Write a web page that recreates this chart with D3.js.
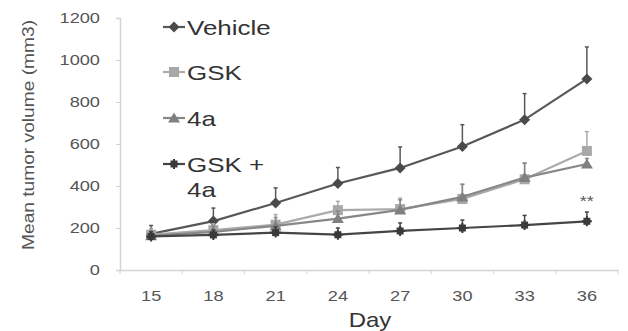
<!DOCTYPE html>
<html><head><meta charset="utf-8">
<script src="https://cdn.jsdelivr.net/npm/d3@7"></script>
<style>body{margin:0;background:#fff}svg{display:block}</style>
</head><body>
<svg id="c" width="628" height="331"></svg>
<script>
const days = [15, 18, 21, 24, 27, 30, 33, 36];
const yTicks = [0, 200, 400, 600, 800, 1000, 1200];
const vehicle = [172, 233, 319, 412, 486, 588, 716, 910];
const vehicleErr = [40, 62, 72, 76, 100, 104, 124, 152];
const gsk = [168, 190, 216, 285, 290, 338, 432, 567];
const gskErr = [30, 30, 48, 42, 52, 70, 78, 92];
const a4 = [163, 182, 210, 245, 286, 348, 440, 505];
const a4Err = [25, 26, 40, 36, 48, 60, 68, 26];
const combo = [160, 167, 178, 168, 186, 200, 214, 232];
const comboErr = [22, 24, 28, 32, 38, 38, 46, 44];
const seriesNames = ["Vehicle", "GSK", "4a", "GSK +|4a"];

const series = [
  {name: seriesNames[0], values: vehicle, err: vehicleErr, color: "#585858", mcolor: "#4a4a4a", shape: "diamond"},
  {name: seriesNames[1], values: gsk, err: gskErr, color: "#ababab", mcolor: "#a8a8a8", shape: "square"},
  {name: seriesNames[2], values: a4, err: a4Err, color: "#878787", mcolor: "#808080", shape: "triangle"},
  {name: seriesNames[3], values: combo, err: comboErr, color: "#454545", mcolor: "#3a3a3a", shape: "star"}
];

const svg = d3.select("#c");
const x = d3.scaleBand().domain(days).range([120, 618]);
const y = d3.scaleLinear().domain([0, 1200]).range([270, 18]);
const font = "Arial, 'Liberation Sans', sans-serif";
const SX = 1.3;

// axes
const yAxis = svg.append("g").attr("transform", "translate(120,0)")
  .call(d3.axisLeft(y).tickValues(yTicks).tickFormat(d3.format("d")).tickSize(4).tickPadding(11.4));
yAxis.select(".domain").attr("stroke", "#d4d4d4").attr("stroke-width", 1.5);
yAxis.selectAll(".tick line").attr("stroke", "#d4d4d4");
yAxis.selectAll("text").attr("font-family", font).attr("font-size", 14).attr("fill", "#555")
  .attr("transform", `scale(${SX},1)`);

const xAxis = svg.append("g").attr("transform", "translate(0,270)")
  .call(d3.axisBottom(x).tickSize(0));
xAxis.select(".domain").attr("stroke", "#d4d4d4").attr("stroke-width", 1.5);
xAxis.selectAll(".tick text").attr("font-family", font).attr("font-size", 14).attr("fill", "#555")
  .attr("y", 0).attr("dy", 0).attr("transform", `translate(0,31) scale(${SX},1)`);
// boundary ticks
xAxis.selectAll(".bt").data(days.concat([null])).enter().append("line")
  .attr("x1", (d, i) => x.range()[0] + i * x.step()).attr("x2", (d, i) => x.range()[0] + i * x.step())
  .attr("y1", 0).attr("y2", 4).attr("stroke", "#d4d4d4");

svg.append("text").attr("transform", `translate(370,327) scale(1.2,1)`).attr("text-anchor", "middle")
  .attr("font-family", font).attr("font-size", 20).attr("fill", "#333").text("Day");
svg.append("text").attr("transform", "translate(34,135) rotate(-90) scale(1,1.25)").attr("text-anchor", "middle")
  .attr("font-family", font).attr("font-size", 13.5).attr("fill", "#555")
  .attr("textLength", 230).attr("lengthAdjust", "spacingAndGlyphs").text("Mean tumor volume (mm3)");

const cx = d => x(d) + x.bandwidth() / 2;
function marker(g, shape, color) {
  if (shape === "diamond") g.append("path").attr("d", "M0,-5.5L5.5,0L0,5.5L-5.5,0Z").attr("fill", color);
  else if (shape === "square") g.append("rect").attr("x", -5).attr("y", -5).attr("width", 10).attr("height", 10).attr("fill", color);
  else if (shape === "triangle") g.append("path").attr("d", "M0,-5.5L6,4.5L-6,4.5Z").attr("fill", color);
  else {
    g.append("rect").attr("x", -3.5).attr("y", -3.5).attr("width", 7).attr("height", 7).attr("fill", color);
    g.append("path").attr("d", "M-5,0L5,0M0,-5L0,5").attr("stroke", color).attr("stroke-width", 2);
  }
}

series.forEach(s => {
  const g = svg.append("g");
  days.forEach((d, i) => {
    g.append("line").attr("x1", cx(d)).attr("x2", cx(d)).attr("y1", y(s.values[i])).attr("y2", y(s.values[i] + s.err[i]))
      .attr("stroke", s.color).attr("stroke-width", 1.5);
    g.append("line").attr("x1", cx(d) - 2).attr("x2", cx(d) + 2).attr("y1", y(s.values[i] + s.err[i])).attr("y2", y(s.values[i] + s.err[i]))
      .attr("stroke", s.color).attr("stroke-width", 1.5);
  });
  const line = d3.line().x((v, i) => cx(days[i])).y(v => y(v));
  g.append("path").datum(s.values).attr("d", line).attr("fill", "none").attr("stroke", s.color).attr("stroke-width", 2.2);
  days.forEach((d, i) => {
    marker(g.append("g").attr("transform", `translate(${cx(d)},${y(s.values[i])})`), s.shape, s.mcolor);
  });
});

svg.append("text").attr("transform", `translate(${cx(36)},${y(combo[7] + comboErr[7]) - 6}) scale(${SX},1)`).attr("text-anchor", "middle")
  .attr("font-family", font).attr("font-size", 14).attr("fill", "#555").text("**");

// legend
const legY = [27, 72, 118, 164];
series.forEach((s, i) => {
  const g = svg.append("g").attr("transform", `translate(0,${legY[i]})`);
  g.append("line").attr("x1", 163).attr("x2", 185).attr("y1", 0).attr("y2", 0).attr("stroke", s.color).attr("stroke-width", 2.2);
  marker(g.append("g").attr("transform", "translate(174,0)"), s.shape, s.mcolor);
  const parts = s.name.split("|");
  parts.forEach((p, j) => {
    g.append("text").attr("transform", `translate(187,${7.5 + j * 25.5}) scale(${SX},1)`)
      .attr("font-family", font).attr("font-size", 20).attr("fill", "#333").text(p);
  });
});
</script>
</body></html>
